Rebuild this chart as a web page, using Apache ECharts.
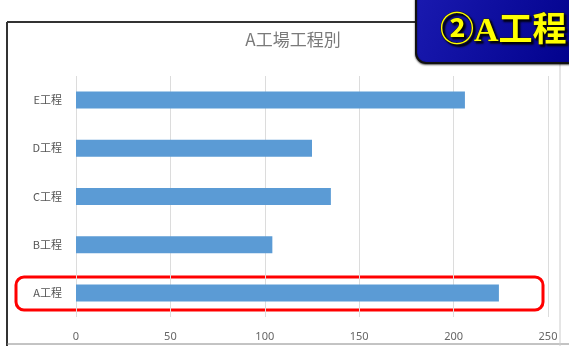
<!DOCTYPE html>
<html><head><meta charset="utf-8">
<script src="https://cdn.jsdelivr.net/npm/echarts@6/dist/echarts.min.js"></script>
<style>html,body{margin:0;padding:0;background:#fff}#c{width:569px;height:346px}</style>
</head><body><div id="c"></div>
<script>
const categories = ['A工程','B工程','C工程','D工程','E工程'];
const values = [224, 104, 135, 125, 206];
const xTicks = [0, 50, 100, 150, 200, 250];

const chart = echarts.init(document.getElementById('c'));
chart.setOption({
  animation: false,
  title: {text: 'A工場工程別', left: 288, top: 26, textAlign: 'center',
    textStyle: {fontSize: 17, fontWeight: 'normal', color: '#7a7a7a', fontFamily: 'Noto Sans CJK JP'}},
  grid: {left: 76, right: 21, top: 76, bottom: 29},
  xAxis: {type: 'value', min: xTicks[0], max: xTicks[xTicks.length-1], interval: 50,
    axisLine: {show: false}, axisTick: {show: false},
    splitLine: {lineStyle: {color: '#dcdcdc'}},
    axisLabel: {color: '#666', fontSize: 11, margin: 14, fontFamily: 'Noto Sans'}},
  yAxis: {type: 'category', data: categories,
    axisLine: {show: false}, axisTick: {show: false},
    axisLabel: {color: '#555', fontSize: 11, margin: 14, fontFamily: 'Noto Sans CJK JP'}},
  series: [{type: 'bar', data: values, barWidth: 17, itemStyle: {color: '#5b9bd5'}}],
  graphic: [
    {type: 'line', shape: {x1: 7, y1: 22, x2: 425, y2: 22}, style: {stroke: '#333', lineWidth: 2}},
    {type: 'line', shape: {x1: 7, y1: 22, x2: 7, y2: 346}, style: {stroke: '#333', lineWidth: 2}},
    {type: 'line', shape: {x1: 7, y1: 344, x2: 569, y2: 344}, style: {stroke: '#888', lineWidth: 1}},
    {type: 'line', shape: {x1: 560, y1: 60, x2: 560, y2: 346}, style: {stroke: '#ccc', lineWidth: 1}},
    {type: 'rect', shape: {x: 16, y: 277, width: 527, height: 33, r: 8},
      style: {fill: 'none', stroke: '#ff0000', lineWidth: 3}},
    {type: 'rect', shape: {x: 416, y: -10, width: 170, height: 73, r: 10},
      style: {fill: new echarts.graphic.LinearGradient(0, 0, 1, 1, [{offset: 0, color: '#1a1ab0'}, {offset: 1, color: '#00008a'}]),
        stroke: '#111', lineWidth: 2, shadowColor: 'rgba(0,0,0,0.6)', shadowBlur: 2, shadowOffsetY: 1}},
    {type: 'text', x: 440, y: 32, style: {text: '②A工程', fill: '#ffff00', fontSize: 34,
      fontWeight: 'bold', fontFamily: 'Liberation Serif, Noto Sans CJK JP', verticalAlign: 'middle',
      stroke: '#222', lineWidth: 1, textShadowColor: '#000', textShadowBlur: 2, textShadowOffsetX: 2, textShadowOffsetY: 2}}
  ]
});
</script></body></html>
